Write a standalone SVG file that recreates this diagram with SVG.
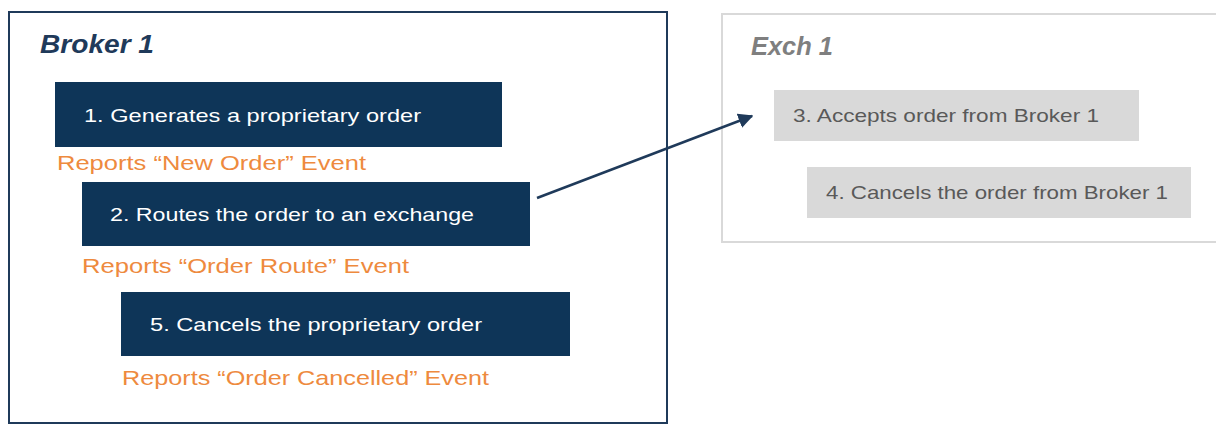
<svg xmlns="http://www.w3.org/2000/svg" width="1216" height="426" viewBox="0 0 1216 426">
<style>
.navy{fill:#0e3558}
.gray{fill:#d9d9d9}
.wt{font-family:"Liberation Sans",Arial,sans-serif;font-size:19px;fill:#ffffff}
.gt{font-family:"Liberation Sans",Arial,sans-serif;font-size:19px;fill:#595959}
.ot{font-family:"Liberation Sans",Arial,sans-serif;font-size:21px;fill:#ee8a3e}
.title{font-family:"Liberation Sans",Arial,sans-serif;font-size:25px;font-weight:bold;font-style:italic}
</style>
<defs>
<marker id="ah" viewBox="0 0 10 10" refX="9" refY="5" markerWidth="6" markerHeight="6" orient="auto" markerUnits="strokeWidth">
<path d="M0,0 L10,5 L0,10 z" fill="#1f3a5a"/>
</marker>
</defs>
<g id="broker1">
<rect x="9" y="12" width="658" height="411" fill="#ffffff" stroke="#1f3a5a" stroke-width="2"/>
<text class="title" x="40" y="53" fill="#1f3a5a" textLength="114" lengthAdjust="spacingAndGlyphs">Broker 1</text>
</g>
<g id="exch1">
<rect x="722" y="14" width="500" height="228" fill="#ffffff" stroke="#d9d9d9" stroke-width="2"/>
<text class="title" x="751" y="55" fill="#7f7f7f" textLength="82" lengthAdjust="spacingAndGlyphs">Exch 1</text>
</g>
<g id="step1">
<rect class="navy" x="55" y="82" width="447" height="65"/>
<text class="wt" x="84" y="122" textLength="337" lengthAdjust="spacingAndGlyphs">1. Generates a proprietary order</text>
<text class="ot" x="57" y="170" textLength="309" lengthAdjust="spacingAndGlyphs">Reports “New Order” Event</text>
</g>
<g id="step2">
<rect class="navy" x="82" y="182" width="448" height="64"/>
<text class="wt" x="110" y="221" textLength="364" lengthAdjust="spacingAndGlyphs">2. Routes the order to an exchange</text>
<text class="ot" x="82" y="273" textLength="327" lengthAdjust="spacingAndGlyphs">Reports “Order Route” Event</text>
</g>
<g id="step5">
<rect class="navy" x="121" y="292" width="449" height="64"/>
<text class="wt" x="150" y="331" textLength="332" lengthAdjust="spacingAndGlyphs">5. Cancels the proprietary order</text>
<text class="ot" x="122" y="385" textLength="367" lengthAdjust="spacingAndGlyphs">Reports “Order Cancelled” Event</text>
</g>
<g id="step3">
<rect class="gray" x="774" y="90" width="365" height="51"/>
<text class="gt" x="793" y="122" textLength="306" lengthAdjust="spacingAndGlyphs">3. Accepts order from Broker 1</text>
</g>
<g id="step4">
<rect class="gray" x="807" y="167" width="384" height="51"/>
<text class="gt" x="826" y="199" textLength="342" lengthAdjust="spacingAndGlyphs">4. Cancels the order from Broker 1</text>
</g>
<g id="connectors">
<line x1="537" y1="198" x2="752" y2="116" stroke="#1f3a5a" stroke-width="2.5" marker-end="url(#ah)"/>
</g>
</svg>
